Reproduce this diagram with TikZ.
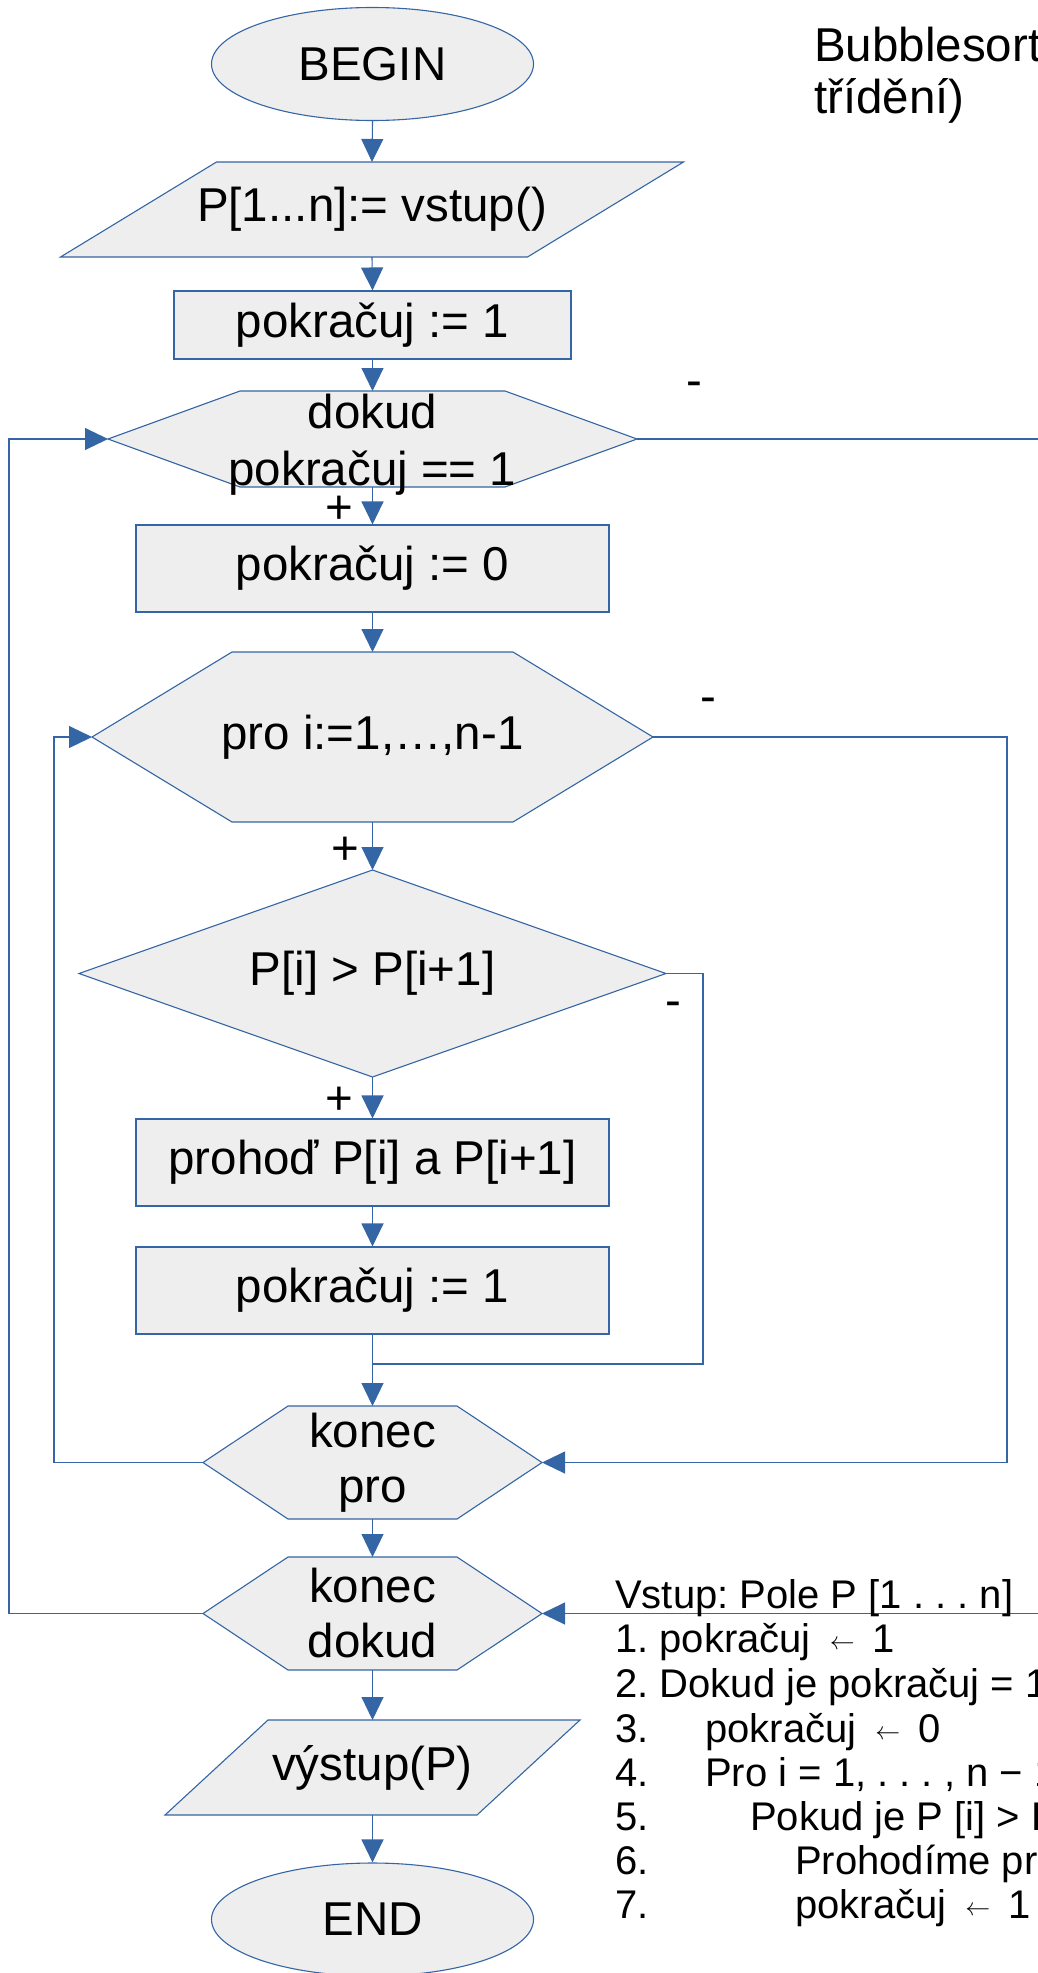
\documentclass[tikz,border=0pt]{standalone}
\usepackage{fontspec}
\setmainfont{Liberation Sans}
\usetikzlibrary{arrows.meta,shapes.geometric,backgrounds}

\definecolor{flowblue}{HTML}{3465A4}
\definecolor{flowfill}{HTML}{EEEEEE}
\newcommand{\larr}{\raisebox{3pt}{\fontsize{25}{25}\selectfont$\leftarrow$}}
\frenchspacing

\tikzset{
  bigtext/.style={font=\fontsize{47.5}{55}\selectfont},
  flowframe/.style={draw=flowblue, line width=1.1pt, fill=flowfill},
  termnode/.style={flowframe, ellipse, bigtext, minimum width=322pt, minimum height=113pt, inner sep=0pt},
  procnode/.style={flowframe, rectangle, bigtext, minimum width=473pt, minimum height=87pt, inner sep=0pt},
  bboxnode/.style={rectangle, bigtext, align=center, inner sep=0pt, outer sep=0pt},
  flowline/.style={draw=flowblue, line width=1.1pt},
  flowarrow/.style={flowline, -{Triangle[length=23pt,width=22pt]}},
  signlabel/.style={bigtext, anchor=base, inner sep=0pt},
  codeline/.style={font=\fontsize{40}{44}\selectfont, anchor=base west, inner sep=0pt},
}

\begin{document}
\begin{tikzpicture}[x=1pt, y=-1pt]
  \useasboundingbox (0,0) rectangle (1037,1973);

  % Title
  \node[bigtext, anchor=base west, inner sep=0pt] (title) at (814,61) {Bubblesort};
  \node[bigtext, anchor=base west, inner sep=0pt] (title2) at (814,113) {třídění)};

  % Flowchart
  \node[termnode] (begin) at (372.5,64) {BEGIN};
  \node[bboxnode, minimum width=623pt, minimum height=95pt] (input) at (372,209.5) {P[1...n]:= vstup()};
  \node[procnode, minimum width=397pt, minimum height=68pt] (init) at (372.5,325) {pokračuj := 1};
  \node[bboxnode, minimum width=529pt, minimum height=96pt] (dokud) at (372.5,439) {};
  \node[bboxnode] (dokudtext) at (372.5,445) {dokud\\[2pt]pokračuj == 1};
  \node[procnode] (reset) at (372.5,568.5) {pokračuj := 0};
  \node[bboxnode, minimum width=561pt, minimum height=170pt] (pro) at (372.5,737) {pro i:=1,…,n-1};
  \node[bboxnode, minimum width=587pt, minimum height=207pt] (cmp) at (372.5,973.5) {P[i] > P[i+1]};
  \node[procnode] (swap) at (372.5,1162.5) {prohoď P[i] a P[i+1]};
  \node[procnode] (set) at (372.5,1290.5) {pokračuj := 1};
  \node[bboxnode, minimum width=339pt, minimum height=113pt] (endfor) at (372.5,1462.5) {konec\\pro};
  \node[bboxnode, minimum width=339pt, minimum height=113pt] (endwhile) at (372.5,1613.5) {konec\\dokud};
  \node[bboxnode, minimum width=415pt, minimum height=95pt] (output) at (372.5,1767.5) {výstup(P)};
  \node[termnode] (end) at (372.5,1919.5) {END};

  % Shapes behind the texts
  \begin{scope}[on background layer]
    \draw[flowframe] (input.south west) -- ([xshift=156pt]input.north west) -- (input.north east)
      -- ([xshift=-156pt]input.south east) -- cycle;
    \draw[flowframe] (dokud.west) -- ([xshift=132pt]dokud.north west) -- ([xshift=-132pt]dokud.north east)
      -- (dokud.east) -- ([xshift=-132pt]dokud.south east) -- ([xshift=132pt]dokud.south west) -- cycle;
    \draw[flowframe] (pro.west) -- ([xshift=140pt]pro.north west) -- ([xshift=-140pt]pro.north east)
      -- (pro.east) -- ([xshift=-140pt]pro.south east) -- ([xshift=140pt]pro.south west) -- cycle;
    \draw[flowframe] (cmp.west) -- (cmp.north) -- (cmp.east) -- (cmp.south) -- cycle;
    \draw[flowframe] (endfor.west) -- ([xshift=85pt]endfor.north west) -- ([xshift=-85pt]endfor.north east)
      -- (endfor.east) -- ([xshift=-85pt]endfor.south east) -- ([xshift=85pt]endfor.south west) -- cycle;
    \draw[flowframe] (endwhile.west) -- ([xshift=85pt]endwhile.north west) -- ([xshift=-85pt]endwhile.north east)
      -- (endwhile.east) -- ([xshift=-85pt]endwhile.south east) -- ([xshift=85pt]endwhile.south west) -- cycle;
    \draw[flowframe] (output.south west) -- ([xshift=103pt]output.north west) -- (output.north east)
      -- ([xshift=-103pt]output.south east) -- cycle;
  \end{scope}

  % Connectors
  \draw[flowarrow] (begin.south) -- (input.north);
  \draw[flowarrow] (input.south) -- (init.north);
  \draw[flowarrow] (init.south) -- (dokud.north);
  \draw[flowarrow] (dokud.south) -- (reset.north);
  \draw[flowarrow] (reset.south) -- (pro.north);
  \draw[flowarrow] (pro.south) -- (cmp.north);
  \draw[flowarrow] (cmp.south) -- (swap.north);
  \draw[flowarrow] (swap.south) -- (set.north);
  \draw[flowarrow] (set.south) -- (endfor.north);
  \draw[flowarrow] (endfor.south) -- (endwhile.north);
  \draw[flowarrow] (endwhile.south) -- (output.north);
  \draw[flowarrow] (output.south) -- (end.north);
  % Loops
  \coordinate (merge) at (372.5,1364);
  \draw[flowline] (cmp.east) -- ++(37,0) |- (merge);
  \draw[flowarrow] (pro.east) -- ++(354,0) |- (endfor.east);
  \draw[flowarrow] (endfor.west) -- ++(-149,0) |- (pro.west);
  \draw[flowarrow] (dokud.east) -- ++(420,0) |- (endwhile.east);
  \draw[flowarrow] (endwhile.west) -- ++(-194,0) |- (dokud.west);

  % Branch signs
  \node[signlabel] (plus1) at (339,523) {+};
  \node[signlabel] (plus2) at (345,864) {+};
  \node[signlabel] (plus3) at (339,1114) {+};
  \node[signlabel] (minus1) at (694,396) {-};
  \node[signlabel] (minus2) at (708,712) {-};
  \node[signlabel] (minus3) at (673,1016) {-};

  % Pseudocode
  \node[codeline] (code0) at (615,1608) {Vstup: Pole P [1 . . . n]};
  \node[codeline] (code1) at (615,1652) {1. pokračuj\hspace{19pt}\larr\hspace{18pt}1};
  \node[codeline] (code2) at (615,1697) {2. Dokud je pokračuj = 1};
  \node[codeline] (num3) at (615,1742) {3.};
  \node[codeline] (code3) at (705,1742) {pokračuj\hspace{19pt}\larr\hspace{18pt}0};
  \node[codeline] (num4) at (615,1786) {4.};
  \node[codeline] (code4) at (705,1786) {Pro i = 1, . . . , n − 1};
  \node[codeline] (num5) at (615,1830) {5.};
  \node[codeline] (code5) at (750,1830) {Pokud je P [i] > P};
  \node[codeline] (num6) at (615,1874) {6.};
  \node[codeline] (code6) at (795,1874) {Prohodíme pr};
  \node[codeline] (num7) at (615,1918) {7.};
  \node[codeline] (code7) at (795,1918) {pokračuj\hspace{19pt}\larr\hspace{18pt}1};
\end{tikzpicture}
\end{document}
